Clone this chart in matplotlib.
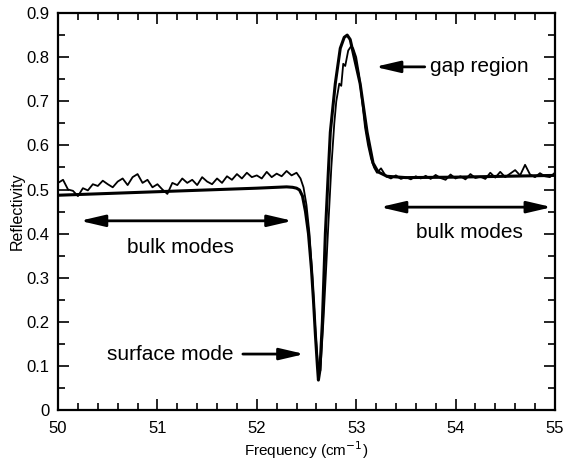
import numpy as np
import matplotlib.pyplot as plt
from matplotlib.ticker import MultipleLocator

plt.rcParams['font.family'] = ['Liberation Sans', 'DejaVu Sans']

# smooth (calculated) curve
calc_f = [50.0, 50.5, 51.0, 51.5, 52.0, 52.2, 52.3, 52.36, 52.40, 52.43, 52.46,
          52.49, 52.52, 52.55, 52.57, 52.59, 52.61, 52.62, 52.635, 52.66, 52.69,
          52.72, 52.74, 52.79, 52.84, 52.88, 52.91, 52.94, 52.98, 53.04, 53.11,
          53.17, 53.22, 53.31, 53.5, 54.0, 54.5, 55.0]
calc_r = [0.487, 0.491, 0.495, 0.499, 0.503, 0.505, 0.506, 0.505, 0.503, 0.499, 0.485,
          0.45, 0.40, 0.32, 0.25, 0.17, 0.10, 0.068, 0.09, 0.20, 0.40,
          0.54, 0.63, 0.74, 0.82, 0.845, 0.85, 0.84, 0.80, 0.74, 0.63,
          0.56, 0.54, 0.53, 0.527, 0.528, 0.530, 0.532]

# measured curve, flat part left (50.00 .. 52.40 every 0.05)
meas_left_r = [0.515, 0.522, 0.500, 0.497, 0.485, 0.503, 0.498, 0.512, 0.508, 0.520,
               0.512, 0.505, 0.518, 0.525, 0.510, 0.528, 0.535, 0.515, 0.522, 0.505,
               0.512, 0.500, 0.490, 0.515, 0.510, 0.525, 0.515, 0.522, 0.510, 0.528,
               0.518, 0.512, 0.525, 0.515, 0.530, 0.522, 0.535, 0.525, 0.538, 0.528,
               0.532, 0.525, 0.540, 0.528, 0.536, 0.530, 0.542, 0.532, 0.538]
# measured curve, resonance region
meas_peak_f = [52.44, 52.47, 52.50, 52.53, 52.56, 52.59, 52.62, 52.64, 52.67, 52.70,
               52.72, 52.75, 52.78, 52.80, 52.83, 52.85, 52.87, 52.89, 52.92, 52.95,
               52.97, 53.00, 53.03, 53.06, 53.09, 53.12, 53.15, 53.18, 53.21]
meas_peak_r = [0.525, 0.505, 0.465, 0.40, 0.30, 0.18, 0.085, 0.09, 0.20, 0.33,
               0.42, 0.55, 0.65, 0.70, 0.74, 0.735, 0.785, 0.78, 0.815, 0.825,
               0.82, 0.80, 0.76, 0.70, 0.64, 0.60, 0.57, 0.55, 0.538]
# measured curve, flat part right (53.25 .. 55.00 every 0.05)
meas_right_r = [0.548, 0.530, 0.525, 0.532, 0.524, 0.528, 0.523, 0.530, 0.525, 0.531,
                0.524, 0.533, 0.526, 0.522, 0.534, 0.525, 0.530, 0.523, 0.535, 0.526,
                0.529, 0.524, 0.538, 0.527, 0.540, 0.528, 0.536, 0.544, 0.532, 0.556,
                0.534, 0.528, 0.537, 0.530, 0.528, 0.538]

meas_f = np.concatenate([50 + 0.05*np.arange(len(meas_left_r)), meas_peak_f,
                         53.25 + 0.05*np.arange(len(meas_right_r))])
meas_r = np.concatenate([meas_left_r, meas_peak_r, meas_right_r])

fig = plt.figure(figsize=(5.75, 4.66), dpi=100)
ax = fig.add_axes([0.101, 0.120, 0.864, 0.852])

ax.plot(meas_f, meas_r, color='black', lw=1.3)
ax.plot(calc_f, calc_r, color='black', lw=2.2)

ax.set_xlim(50, 55)
ax.set_ylim(0, 0.9)
ax.xaxis.set_major_locator(MultipleLocator(1))
ax.xaxis.set_minor_locator(MultipleLocator(0.2))
ax.yaxis.set_major_locator(MultipleLocator(0.1))
ax.yaxis.set_minor_locator(MultipleLocator(0.05))
ax.set_yticks(np.arange(0, 0.91, 0.1))
ax.set_yticklabels(['0'] + ['%.1f' % v for v in np.arange(0.1, 0.91, 0.1)])
ax.tick_params(which='both', direction='in', top=True, right=True, labelsize=12, width=1.2)
ax.tick_params(which='major', length=8)
ax.tick_params(which='minor', length=5)
ax.tick_params(axis='x', which='major', pad=8)
ax.tick_params(axis='y', which='major', pad=6)
for s in ax.spines.values():
    s.set_linewidth(1.6)

ax.set_xlabel('Frequency (cm$^{-1}$)', fontsize=11, labelpad=2)
ax.set_ylabel('Reflectivity', fontsize=11.5, labelpad=1)

arr = dict(arrowstyle='-|>,head_length=1.5,head_width=0.35', color='black', lw=2, shrinkA=0, shrinkB=0)
arr2 = dict(arrowstyle='<|-|>,head_length=1.5,head_width=0.35', color='black', lw=2, shrinkA=0, shrinkB=0)

ax.annotate('', xy=(53.19, 0.778), xytext=(53.69, 0.778), arrowprops=arr)
ax.text(53.74, 0.778, 'gap region', fontsize=15, va='center', ha='left')

ax.annotate('', xy=(50.22, 0.429), xytext=(52.36, 0.429), arrowprops=arr2)
ax.text(51.23, 0.368, 'bulk modes', fontsize=15, va='center', ha='center')

ax.annotate('', xy=(53.24, 0.46), xytext=(54.97, 0.46), arrowprops=arr2)
ax.text(54.14, 0.402, 'bulk modes', fontsize=15, va='center', ha='center')

ax.annotate('', xy=(52.48, 0.127), xytext=(51.86, 0.127), arrowprops=arr)
ax.text(51.13, 0.127, 'surface mode', fontsize=15, va='center', ha='center')

fig.savefig('out.png', dpi=100)
